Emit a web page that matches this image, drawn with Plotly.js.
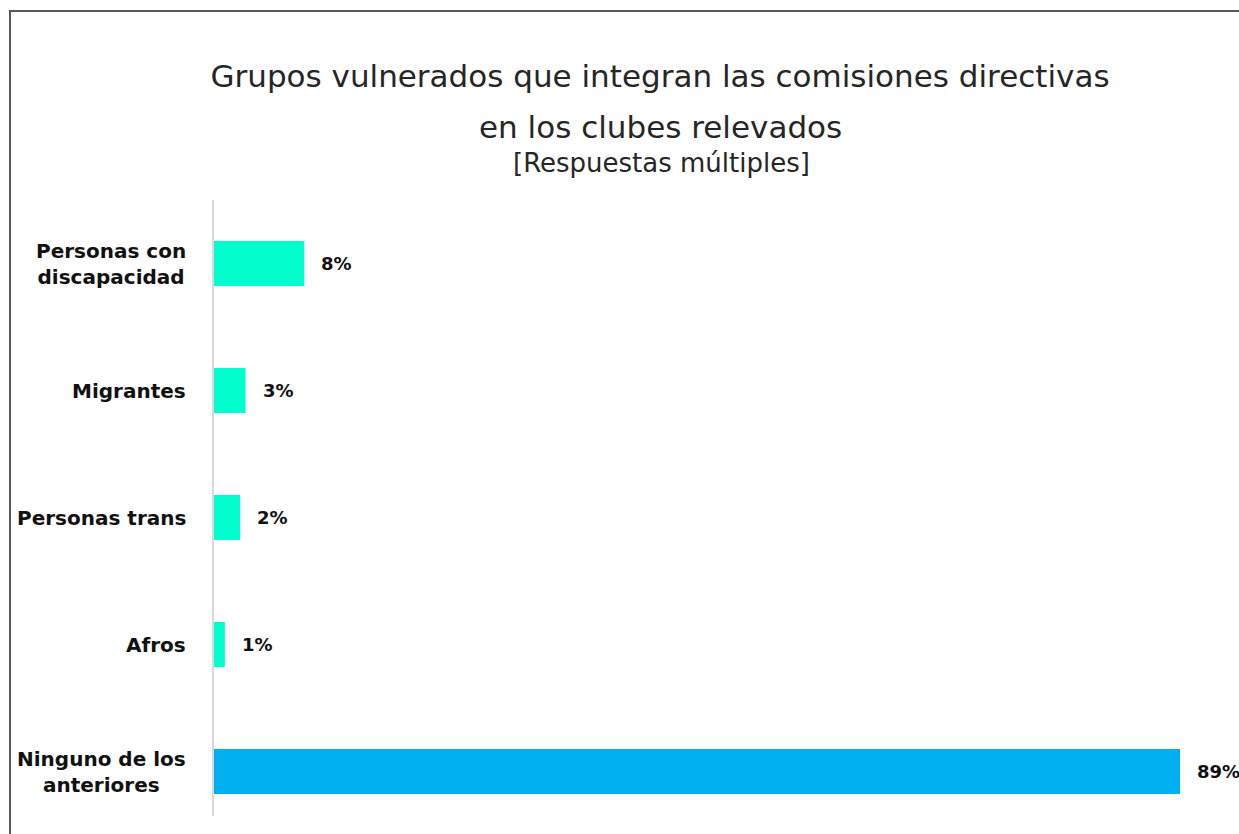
<!DOCTYPE html>
<html>
<head>
<meta charset="utf-8">
<script src="https://cdn.plot.ly/plotly-3.0.1.min.js"></script>
<style>
  html, body { margin: 0; padding: 0; background: #ffffff; overflow: hidden; }
  #chart { width: 1239px; height: 834px; }
</style>
</head>
<body>
<div id="chart"></div>
<script>
// ---- data ----
const categories = ["Personas con<br>discapacidad", "Migrantes", "Personas trans", "Afros", "Ninguno de los<br>anteriores"];
const values = [8.3, 2.9, 2.4, 1.0, 88.9];
const valueLabels = ["8%", "3%", "2%", "1%", "89%"];
const titleLine1 = "Grupos vulnerados que integran las comisiones directivas";
const titleLine2 = "en los clubes relevados";
const titleLine3 = "[Respuestas múltiples]";
const highlightCategory = "Ninguno de los<br>anteriores";

// ---- layout constants ----
const W = 1239, H = 834;
const M = { l: 214, r: 47, t: 200, b: 18 };
const plotH = H - M.t - M.b;
const plotW = W - M.l - M.r;
const pyToPaper = py => (H - M.b - py) / plotH;
const pxToPaper = px => (px - M.l) / plotW;

const TEAL = "#00FFCC";
const BLUE = "#00B0F0";
const TEXT = "#111111";

const trace = {
  type: "bar",
  orientation: "h",
  y: categories,
  x: values,
  marker: { color: categories.map(c => c === highlightCategory ? BLUE : TEAL) },
  hoverinfo: "y+x"
};

const annotations = [];
// category labels (centered multi-line, like the original)
categories.forEach(c => {
  annotations.push({
    xref: "paper", yref: "y", x: 0, y: c,
    xanchor: "right", yanchor: "middle", xshift: -26,
    text: c, showarrow: false, align: "center",
    font: { family: "DejaVu Sans", size: 20, color: TEXT, weight: "bold" }
  });
});
// value labels
categories.forEach((c, i) => {
  annotations.push({
    xref: "x", yref: "y", x: values[i], y: c,
    xanchor: "left", yanchor: "middle", xshift: 15,
    text: valueLabels[i], showarrow: false,
    font: { family: "DejaVu Sans", size: 18, color: TEXT, weight: "bold" }
  });
});
// title lines 2 and 3
annotations.push({
  xref: "paper", yref: "paper", x: pxToPaper(660), y: pyToPaper(127.5),
  xanchor: "center", yanchor: "middle", text: titleLine2, showarrow: false,
  font: { family: "DejaVu Sans", size: 31, color: "#262626" }
});
annotations.push({
  xref: "paper", yref: "paper", x: pxToPaper(661), y: pyToPaper(162.5),
  xanchor: "center", yanchor: "middle", text: titleLine3, showarrow: false,
  font: { family: "DejaVu Sans", size: 26, color: "#262626" }
});

const layout = {
  width: W, height: H, autosize: false,
  margin: M,
  paper_bgcolor: "#ffffff",
  plot_bgcolor: "#ffffff",
  showlegend: false,
  bargap: 0.645,
  title: {
    text: titleLine1,
    xref: "container", yref: "container",
    x: 660 / W, xanchor: "center",
    y: 1 - 76 / H, yanchor: "middle",
    font: { family: "DejaVu Sans", size: 31, color: "#262626" }
  },
  xaxis: {
    range: [0, 90], visible: false, showgrid: false, zeroline: false, fixedrange: true
  },
  yaxis: {
    type: "category",
    range: [4.35, -0.5],
    showline: true, linecolor: "#d9d9d9", linewidth: 2,
    showticklabels: false, ticks: "", showgrid: false, zeroline: false, fixedrange: true
  },
  annotations: annotations,
  shapes: [{
    type: "rect", xref: "paper", yref: "paper", layer: "above",
    x0: pxToPaper(10), x1: pxToPaper(W + 100),
    y0: pyToPaper(H + 100), y1: pyToPaper(11),
    line: { color: "#595959", width: 2 }, fillcolor: "rgba(0,0,0,0)"
  }]
};

Plotly.newPlot("chart", [trace], layout, { displayModeBar: false, staticPlot: false });
</script>
</body>
</html>
